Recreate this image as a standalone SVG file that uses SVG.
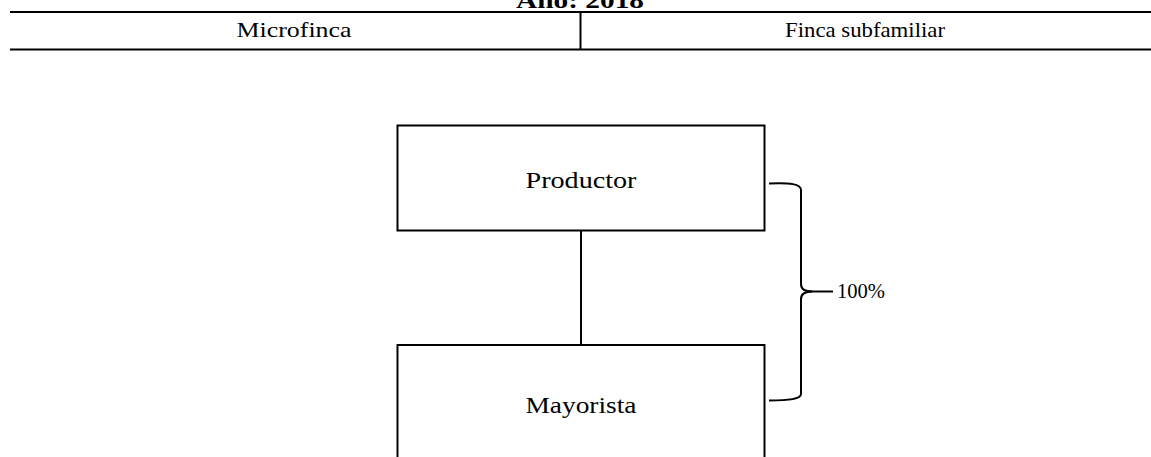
<svg xmlns="http://www.w3.org/2000/svg" width="1151" height="457" viewBox="0 0 1151 457">
<style>
.t{font-family:"Liberation Serif","Times New Roman",serif;fill:#000;text-anchor:middle}
.b{fill:#fff;stroke:#000;stroke-width:2}
.l{stroke:#000;stroke-width:2;fill:none}
</style>
<rect width="1151" height="457" fill="#fff"/>
<g id="header">
<text class="t" x="580" y="8" font-size="24" font-weight="bold" textLength="128" lengthAdjust="spacingAndGlyphs">Año: 2018</text>
<line class="l" x1="10" y1="12" x2="1151" y2="12" stroke-width="2.5"/>
<line class="l" x1="10" y1="49.5" x2="1151" y2="49.5" stroke-width="2.5"/>
<line class="l" x1="580.5" y1="12" x2="580.5" y2="49.5" stroke-width="1.5"/>
<text class="t" x="294" y="37" font-size="22" textLength="115" lengthAdjust="spacingAndGlyphs">Microfinca</text>
<text class="t" x="865" y="37" font-size="22" textLength="160" lengthAdjust="spacingAndGlyphs">Finca subfamiliar</text>
</g>
<g id="connectors">
<line class="l" x1="581" y1="231" x2="581" y2="345"/>
<path class="l" d="M769,183.5 C790,182.5 801,184 801,190 L801,284 C801,289 805,291.5 812,291.5 C805,291.5 801,294 801,299 L801,394 C801,399 790,400.5 769,400.5"/>
<line class="l" x1="808" y1="291.5" x2="833" y2="291.5"/>
</g>
<g id="productor">
<rect class="b" x="397.5" y="125.5" width="367" height="105"/>
<text class="t" x="581" y="188" font-size="24" textLength="111" lengthAdjust="spacingAndGlyphs">Productor</text>
</g>
<g id="mayorista">
<rect class="b" x="397.5" y="345" width="367" height="130"/>
<text class="t" x="581" y="413" font-size="24" textLength="111" lengthAdjust="spacingAndGlyphs">Mayorista</text>
</g>
<g id="pct">
<text class="t" x="861" y="298" font-size="22" textLength="48" lengthAdjust="spacingAndGlyphs">100%</text>
</g>
</svg>
